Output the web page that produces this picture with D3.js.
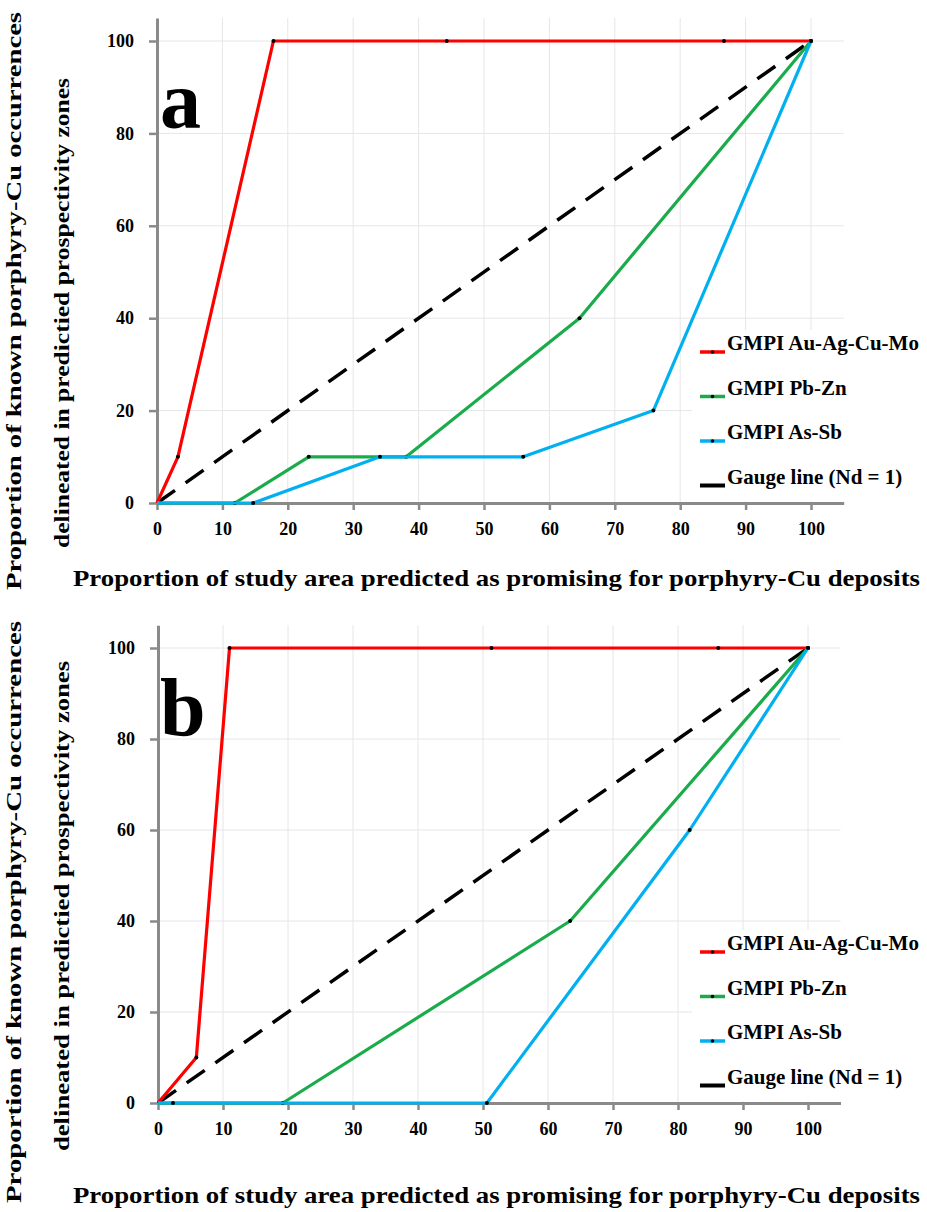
<!DOCTYPE html>
<html>
<head>
<meta charset="utf-8">
<script src="https://cdn.jsdelivr.net/npm/d3@7"></script>
<style>
  body { margin: 0; background: #fff; }
  svg text { font-family: "Liberation Serif", "DejaVu Serif", serif; font-weight: bold; fill: #000; }
</style>
</head>
<body>
<div id="chart"></div>
<script>
// tick labels
var xTickVals = [0, 10, 20, 30, 40, 50, 60, 70, 80, 90, 100];
var yTickVals = [0, 20, 40, 60, 80, 100];

var seriesNames = ["GMPI Au-Ag-Cu-Mo", "GMPI Pb-Zn", "GMPI As-Sb", "Gauge line (Nd = 1)"];
var seriesColors = ["#ff0000", "#1aab4b", "#00b0f0", "#000000"];

// panel a  [area %, occurrences %]
var aAuAgCuMo = [[0, 0], [3.2, 10], [17.8, 100], [44.3, 100], [86.7, 100], [100, 100]];
var aPbZn     = [[0, 0], [11.9, 0], [23.2, 10], [38.1, 10], [64.6, 40], [100, 100]];
var aAsSb     = [[0, 0], [14.7, 0], [34.1, 10], [56.0, 10], [75.9, 20], [100, 100]];

// panel b
var bAuAgCuMo = [[0, 0], [5.9, 10], [11.0, 100], [51.3, 100], [86.2, 100], [100, 100]];
var bPbZn     = [[0, 0], [19.2, 0], [63.4, 40], [100, 100]];
var bAsSb     = [[0, 0], [2.3, 0], [50.6, 0], [81.8, 60], [100, 100]];

var gauge = [[0, 0], [100, 100]];

var xTitle = "Proportion of study area predicted as promising for porphyry-Cu deposits";
var yTitle1 = "Proportion of known porphyry-Cu occurrences";
var yTitle2 = "delineated in predictied prospectivity zones";

var svg = d3.select("#chart").append("svg")
  .attr("width", 927)
  .attr("height", 1212);

var drawPanel = function(p) {
  var x = d3.scaleLinear().domain([0, 105]).range([p.x0, p.x0 + (p.x100 - p.x0) * 1.05]);
  var y = d3.scaleLinear().domain([0, 105]).range([p.y0, p.y0 - (p.y0 - p.y100) * 1.05]);
  var g = svg.append("g");

  // grid
  g.selectAll(".vgrid").data(xTickVals.slice(1)).enter().append("line")
    .attr("x1", function(d) { return x(d); }).attr("x2", function(d) { return x(d); })
    .attr("y1", y(105)).attr("y2", y(0))
    .attr("stroke", "#e6e6e6").attr("stroke-width", 1);
  g.selectAll(".hgrid").data(yTickVals.slice(1)).enter().append("line")
    .attr("x1", x(0)).attr("x2", x(105))
    .attr("y1", function(d) { return y(d); }).attr("y2", function(d) { return y(d); })
    .attr("stroke", "#e6e6e6").attr("stroke-width", 1);

  // legend background hides grid
  g.append("rect")
    .attr("x", 692).attr("y", p.legTop - 22)
    .attr("width", 235).attr("height", p.y0 - 2 - (p.legTop - 22))
    .attr("fill", "#fff");

  // axes
  var xAxis = g.append("g")
    .attr("transform", "translate(0," + p.y0 + ")")
    .call(d3.axisBottom(x).tickValues(xTickVals).tickSize(7).tickPadding(12).tickSizeOuter(0));
  var yAxis = g.append("g")
    .attr("transform", "translate(" + p.x0 + ",0)")
    .call(d3.axisLeft(y).tickValues(yTickVals).tickSize(8).tickPadding(15).tickSizeOuter(0));
  [xAxis, yAxis].forEach(function(a) {
    a.select(".domain").attr("stroke", "#8a8a8a").attr("stroke-width", 3);
    a.selectAll(".tick line").attr("stroke", "#8a8a8a").attr("stroke-width", 2.5);
    a.selectAll(".tick text")
      .style("font-family", "'Liberation Serif', serif")
      .style("font-weight", "bold")
      .style("font-size", "18px")
      .attr("fill", "#000");
  });

  var line = d3.line()
    .x(function(d) { return x(d[0]); })
    .y(function(d) { return y(d[1]); });

  // gauge line
  g.append("path")
    .attr("d", line(gauge))
    .attr("fill", "none").attr("stroke", "#000")
    .attr("stroke-width", 3.5).attr("stroke-dasharray", "22,13");

  p.series.forEach(function(s, i) {
    g.append("path")
      .attr("d", line(s))
      .attr("fill", "none").attr("stroke", seriesColors[i])
      .attr("stroke-width", 3.2).attr("stroke-linejoin", "round");
    g.selectAll(".pt" + i).data(s.slice(1)).enter().append("circle")
      .attr("cx", function(d) { return x(d[0]); })
      .attr("cy", function(d) { return y(d[1]); })
      .attr("r", 2).attr("fill", "#000");
  });

  // legend
  seriesNames.forEach(function(name, i) {
    var ly = p.legTop + i * 44.5;
    g.append("line")
      .attr("x1", 700).attr("x2", 725).attr("y1", ly).attr("y2", ly)
      .attr("stroke", seriesColors[i]).attr("stroke-width", i === 3 ? 4 : 3.5);
    if (i < 3) {
      g.append("circle").attr("cx", 712.5).attr("cy", ly).attr("r", 1.8).attr("fill", "#000");
    }
    g.append("text")
      .attr("x", 727).attr("y", ly - 2)
      .style("font-size", "21px")
      .text(name);
  });

  // panel letter
  g.append("text")
    .attr("x", 160).attr("y", p.letterY)
    .style("font-size", "82px")
    .text(p.letter);

  // axis titles
  g.append("text")
    .attr("x", 73).attr("y", p.xTitleY)
    .attr("textLength", 847).attr("lengthAdjust", "spacingAndGlyphs")
    .style("font-size", "23px")
    .text(xTitle);

  g.append("text")
    .attr("transform", "translate(21," + p.yT1 + ") rotate(-90)")
    .attr("text-anchor", "middle")
    .attr("textLength", p.yT1Len).attr("lengthAdjust", "spacingAndGlyphs")
    .style("font-size", "22px")
    .text(yTitle1);
  g.append("text")
    .attr("transform", "translate(69," + p.yT2 + ") rotate(-90)")
    .attr("text-anchor", "middle")
    .attr("textLength", p.yT2Len).attr("lengthAdjust", "spacingAndGlyphs")
    .style("font-size", "22px")
    .text(yTitle2);
};

drawPanel({
  x0: 157, x100: 811, y0: 503, y100: 41,
  series: [aAuAgCuMo, aPbZn, aAsSb],
  legTop: 352, letter: "a", letterY: 128, xTitleY: 586,
  yT1: 301, yT1Len: 578, yT2: 313, yT2Len: 470
});

drawPanel({
  x0: 158, x100: 808, y0: 1103, y100: 648,
  series: [bAuAgCuMo, bPbZn, bAsSb],
  legTop: 952, letter: "b", letterY: 735, xTitleY: 1203,
  yT1: 912, yT1Len: 582, yT2: 906, yT2Len: 490
});
</script>
</body>
</html>
